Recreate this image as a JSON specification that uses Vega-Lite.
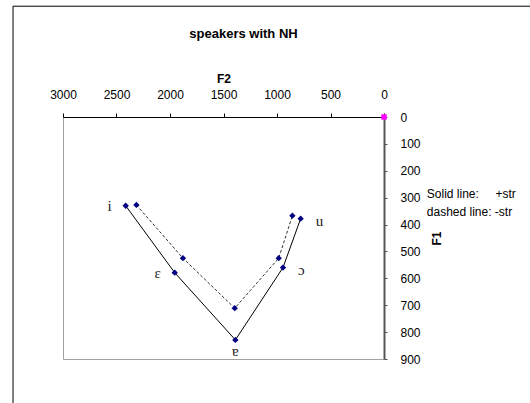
{
  "$schema": "https://vega.github.io/schema/vega-lite/v6.json",
  "autosize": {"type": "none"},
  "width": 321,
  "height": 242,
  "padding": {"left": 63, "top": 117, "right": 146, "bottom": 44},
  "background": "white",
  "config": {
    "view": {"stroke": "#a0a0a0", "strokeWidth": 1},
    "font": "Liberation Sans",
    "axis": {"grid": false, "labelFont": "Liberation Sans", "titleFont": "Liberation Sans", "labelColor": "black", "titleColor": "black", "labelFontSize": 12, "titleFontSize": 12, "titleFontWeight": "bold", "labelFlush": false, "labelOverlap": false}
  },
  "title": {"text": "speakers with NH", "fontSize": 13, "fontWeight": "bold", "font": "Liberation Sans", "anchor": "middle", "dx": 20, "offset": -35, "color": "black"},
  "datasets": {
    "vowels": [
      {"series": "+str", "vowel": "i", "side": "left", "ord": 1, "F2": 2414, "F1": 330},
      {"series": "+str", "vowel": "ε", "side": "left", "ord": 2, "F2": 1956, "F1": 579},
      {"series": "+str", "vowel": "ɐ", "side": "bottom", "ord": 3, "F2": 1389, "F1": 829},
      {"series": "+str", "vowel": "ɔ", "side": "right", "ord": 4, "F2": 944, "F1": 560},
      {"series": "+str", "vowel": "u", "side": "right", "ord": 5, "F2": 779, "F1": 378},
      {"series": "-str", "vowel": "i", "side": "none", "ord": 1, "F2": 2314, "F1": 327},
      {"series": "-str", "vowel": "ε", "side": "none", "ord": 2, "F2": 1879, "F1": 525},
      {"series": "-str", "vowel": "ɐ", "side": "none", "ord": 3, "F2": 1395, "F1": 711},
      {"series": "-str", "vowel": "ɔ", "side": "none", "ord": 4, "F2": 984, "F1": 525},
      {"series": "-str", "vowel": "u", "side": "none", "ord": 5, "F2": 856, "F1": 367}
    ],
    "origin": [{"F2": 0, "F1": 0}]
  },
  "layer": [
    {
      "data": {"name": "vowels"},
      "transform": [{"filter": "datum.series === '-str'"}],
      "mark": {"type": "line", "color": "#333333", "strokeWidth": 1, "strokeDash": [3, 2]},
      "encoding": {
        "x": {"field": "F2", "type": "quantitative", "scale": {"domain": [0, 3000], "reverse": true, "nice": false, "zero": false}, "axis": {"orient": "top", "title": "F2", "values": [0, 500, 1000, 1500, 2000, 2500, 3000], "tickCount": 7, "format": "d", "tickSize": 4, "labelPadding": 12, "titlePadding": 3, "domainColor": "black", "tickColor": "black", "domainWidth": 1}},
        "y": {"field": "F1", "type": "quantitative", "scale": {"domain": [0, 900], "reverse": true, "nice": false, "zero": false}, "axis": {"orient": "right", "title": "F1", "values": [0, 100, 200, 300, 400, 500, 600, 700, 800, 900], "tickCount": 10, "format": "d", "tickSize": 3, "labelPadding": 13, "titlePadding": 23, "titleAngle": 270, "domainColor": "#555555", "domainWidth": 2, "tickColor": "#555555"}},
        "order": {"field": "ord"}
      }
    },
    {
      "data": {"values": [{}]},
      "mark": {"type": "rect", "fill": "transparent", "stroke": "black", "strokeWidth": 1, "clip": false},
      "encoding": {
        "x": {"datum": 3467, "type": "quantitative"},
        "x2": {"datum": -1500},
        "y": {"datum": -412, "type": "quantitative"},
        "y2": {"datum": 1100}
      }
    },
    {
      "data": {"name": "vowels"},
      "transform": [{"filter": "datum.series === '+str'"}],
      "mark": {"type": "line", "color": "black", "strokeWidth": 1},
      "encoding": {
        "x": {"field": "F2", "type": "quantitative"},
        "y": {"field": "F1", "type": "quantitative"},
        "order": {"field": "ord"}
      }
    },
    {
      "data": {"name": "vowels"},
      "mark": {"type": "point", "shape": "diamond", "filled": true, "color": "#000080", "size": 40, "opacity": 1},
      "encoding": {
        "x": {"field": "F2", "type": "quantitative"},
        "y": {"field": "F1", "type": "quantitative"}
      }
    },
    {
      "data": {"name": "origin"},
      "mark": {"type": "point", "shape": "square", "filled": true, "color": "#ff00ff", "size": 30, "opacity": 1, "clip": false},
      "encoding": {
        "x": {"field": "F2", "type": "quantitative"},
        "y": {"field": "F1", "type": "quantitative"}
      }
    },
    {
      "data": {"name": "vowels"},
      "transform": [{"filter": "datum.side === 'left'"}],
      "mark": {"type": "text", "font": "Liberation Serif", "fontSize": 15, "align": "right", "baseline": "middle", "dx": -14, "color": "#222222"},
      "encoding": {
        "x": {"field": "F2", "type": "quantitative"},
        "y": {"field": "F1", "type": "quantitative"},
        "text": {"field": "vowel"}
      }
    },
    {
      "data": {"name": "vowels"},
      "transform": [{"filter": "datum.side === 'right'"}],
      "mark": {"type": "text", "font": "Liberation Serif", "fontSize": 15, "align": "left", "baseline": "middle", "dx": 15, "dy": 2, "color": "#222222"},
      "encoding": {
        "x": {"field": "F2", "type": "quantitative"},
        "y": {"field": "F1", "type": "quantitative"},
        "text": {"field": "vowel"}
      }
    },
    {
      "data": {"name": "vowels"},
      "transform": [{"filter": "datum.side === 'bottom'"}],
      "mark": {"type": "text", "font": "Liberation Serif", "fontSize": 15, "align": "center", "baseline": "middle", "dy": 11, "color": "#222222"},
      "encoding": {
        "x": {"field": "F2", "type": "quantitative"},
        "y": {"field": "F1", "type": "quantitative"},
        "text": {"field": "vowel"}
      }
    },
    {
      "data": {"values": [{}]},
      "mark": {"type": "text", "text": "Solid line:\u00a0\u00a0\u00a0\u00a0 +str", "font": "Liberation Sans", "fontSize": 12, "align": "left", "baseline": "middle", "color": "black", "clip": false},
      "encoding": {"x": {"datum": -400}, "y": {"datum": 286}}
    },
    {
      "data": {"values": [{}]},
      "mark": {"type": "text", "text": "dashed line: -str", "font": "Liberation Sans", "fontSize": 12, "align": "left", "baseline": "middle", "color": "black", "clip": false},
      "encoding": {"x": {"datum": -400}, "y": {"datum": 353}}
    }
  ]
}
